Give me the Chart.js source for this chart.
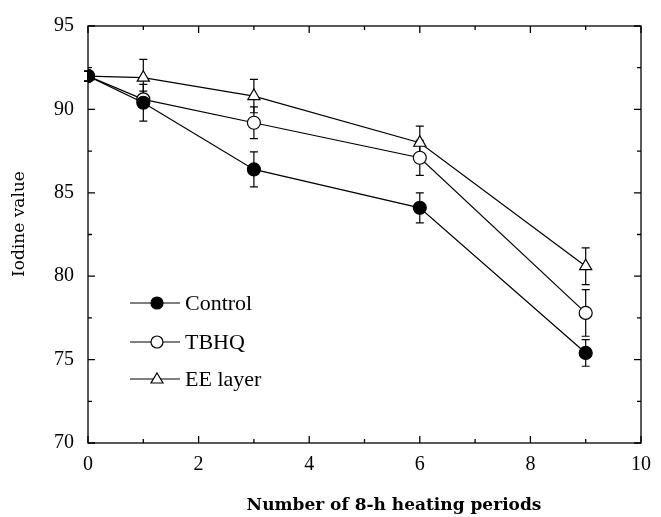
<!DOCTYPE html>
<html>
<head>
<meta charset="utf-8">
<script src="https://cdn.jsdelivr.net/npm/chart.js@4.4.1/dist/chart.umd.min.js"></script>
<style>
  html, body { margin: 0; padding: 0; background: #fff; }
  #wrap { width: 661px; height: 517px; }
</style>
</head>
<body>
<div id="wrap"><canvas id="myChart" width="661" height="517"></canvas></div>
<script>
// heating periods (x) and iodine values
const periods = [0, 1, 3, 6, 9];
const controlValues = [92.0, 90.4, 86.4, 84.1, 75.4];
const controlErr = [0.3, 1.1, 1.05, 0.9, 0.8];
const tbhqValues = [92.0, 90.6, 89.2, 87.1, 77.8];
const tbhqErr = [0.3, 0.5, 0.95, 1.05, 1.4];
const eeValues = [92.0, 91.9, 90.8, 88.0, 80.6];
const eeErr = [0.3, 1.1, 1.0, 1.0, 1.1];
const seriesNames = ["Control", "TBHQ", "EE layer"];
const xTicks = [0, 2, 4, 6, 8, 10];
const yTicks = [70, 75, 80, 85, 90, 95];
const xTitle = "Number of 8-h heating periods";
const yTitle = "Iodine value";

const serif = "'Liberation Serif', 'Times New Roman', serif";
const wideSerif = "'DejaVu Serif', serif";

function toPoints(vals) {
	return periods.map(function(p, i) { return {x: p, y: vals[i]}; });
}

// error bars, drawn under the markers
const errorBars = {
	id: 'errorBars',
	beforeDatasetsDraw: function(chart) {
		const ctx = chart.ctx;
		const xs = chart.scales.x, ys = chart.scales.y;
		ctx.save();
		ctx.strokeStyle = '#000';
		ctx.lineWidth = 1.2;
		chart.data.datasets.forEach(function(ds) {
			ds.data.forEach(function(pt, i) {
				const e = ds.errors[i];
				const px = xs.getPixelForValue(pt.x);
				const top = ys.getPixelForValue(pt.y + e);
				const bot = ys.getPixelForValue(pt.y - e);
				ctx.beginPath();
				ctx.moveTo(px, top); ctx.lineTo(px, bot);
				ctx.moveTo(px - 4, top); ctx.lineTo(px + 4, top);
				ctx.moveTo(px - 4, bot); ctx.lineTo(px + 4, bot);
				ctx.stroke();
			});
		});
		ctx.restore();
	}
};

// frame with inward ticks, axis titles and the legend inside the plot
const frame = {
	id: 'frame',
	afterDraw: function(chart) {
		const ctx = chart.ctx;
		const a = chart.chartArea;
		const xs = chart.scales.x, ys = chart.scales.y;
		ctx.save();
		ctx.strokeStyle = '#000';
		ctx.lineWidth = 1.3;
		ctx.strokeRect(a.left, a.top, a.right - a.left, a.bottom - a.top);
		ctx.beginPath();
		for (let v = 0; v <= 10; v++) {
			const px = xs.getPixelForValue(v);
			const len = v % 2 === 0 ? 7 : 4;
			ctx.moveTo(px, a.bottom); ctx.lineTo(px, a.bottom - len);
			ctx.moveTo(px, a.top); ctx.lineTo(px, a.top + len);
		}
		for (let v = 70; v <= 95; v += 2.5) {
			const py = ys.getPixelForValue(v);
			const len = v % 5 === 0 ? 7 : 4;
			ctx.moveTo(a.left, py); ctx.lineTo(a.left + len, py);
			ctx.moveTo(a.right, py); ctx.lineTo(a.right - len, py);
		}
		ctx.stroke();

		// axis titles
		ctx.fillStyle = '#000';
		ctx.textAlign = 'center';
		ctx.textBaseline = 'middle';
		ctx.font = "bold 17px " + wideSerif;
		ctx.fillText(xTitle, 394, 506);
		ctx.save();
		ctx.translate(20, 224);
		ctx.rotate(-Math.PI / 2);
		ctx.font = "17px " + wideSerif;
		ctx.fillText(yTitle, 0, 0);
		ctx.restore();

		// legend
		const rows = [303, 342, 379];
		ctx.font = "22px " + serif;
		ctx.textAlign = 'left';
		chart.data.datasets.forEach(function(ds, i) {
			const y = rows[i];
			ctx.beginPath();
			ctx.lineWidth = 1.2;
			ctx.moveTo(130, y); ctx.lineTo(180, y);
			ctx.stroke();
			ctx.beginPath();
			if (ds.pointStyle === 'triangle') {
				ctx.moveTo(157, y - 6); ctx.lineTo(163, y + 4); ctx.lineTo(151, y + 4); ctx.closePath();
			} else {
				ctx.arc(157, y, 6, 0, Math.PI * 2);
			}
			ctx.fillStyle = ds.pointBackgroundColor;
			ctx.fill();
			ctx.stroke();
			ctx.fillStyle = '#000';
			ctx.fillText(ds.label, 185, y + 1);
		});
		ctx.restore();
	}
};

const ctx = document.getElementById("myChart").getContext('2d');
const myChart = new Chart(ctx, {
	type: 'line',
	data: {
		datasets: [
			{label: seriesNames[0], data: toPoints(controlValues), errors: controlErr,
				borderColor: '#000', borderWidth: 1.2, pointStyle: 'circle', pointRadius: 6.5,
				pointBackgroundColor: '#000', pointBorderColor: '#000', pointBorderWidth: 1.2},
			{label: seriesNames[1], data: toPoints(tbhqValues), errors: tbhqErr,
				borderColor: '#000', borderWidth: 1.2, pointStyle: 'circle', pointRadius: 6.5,
				pointBackgroundColor: '#fff', pointBorderColor: '#000', pointBorderWidth: 1.2},
			{label: seriesNames[2], data: toPoints(eeValues), errors: eeErr,
				borderColor: '#000', borderWidth: 1.2, pointStyle: 'triangle', pointRadius: 7,
				pointBackgroundColor: '#fff', pointBorderColor: '#000', pointBorderWidth: 1.2}
		]
	},
	options: {
		responsive: false,
		animation: false,
		layout: {padding: {top: 24, right: 13, left: 0, bottom: 0}},
		plugins: {legend: {display: false}, tooltip: {enabled: false}},
		scales: {
			x: {
				type: 'linear', min: 0, max: 10,
				afterBuildTicks: function(s) { s.ticks = xTicks.map(function(v) { return {value: v}; }); },
				afterFit: function(s) { s.height = 74; },
				grid: {display: false, drawTicks: false},
				border: {display: false},
				ticks: {color: '#000', padding: 10, font: {family: serif, size: 20}}
			},
			y: {
				type: 'linear', min: 70, max: 95,
				afterBuildTicks: function(s) { s.ticks = yTicks.map(function(v) { return {value: v}; }); },
				afterFit: function(s) { s.width = 88; },
				grid: {display: false, drawTicks: false},
				border: {display: false},
				ticks: {color: '#000', padding: 14, font: {family: serif, size: 20}}
			}
		}
	},
	plugins: [errorBars, frame]
});
</script>
</body>
</html>
